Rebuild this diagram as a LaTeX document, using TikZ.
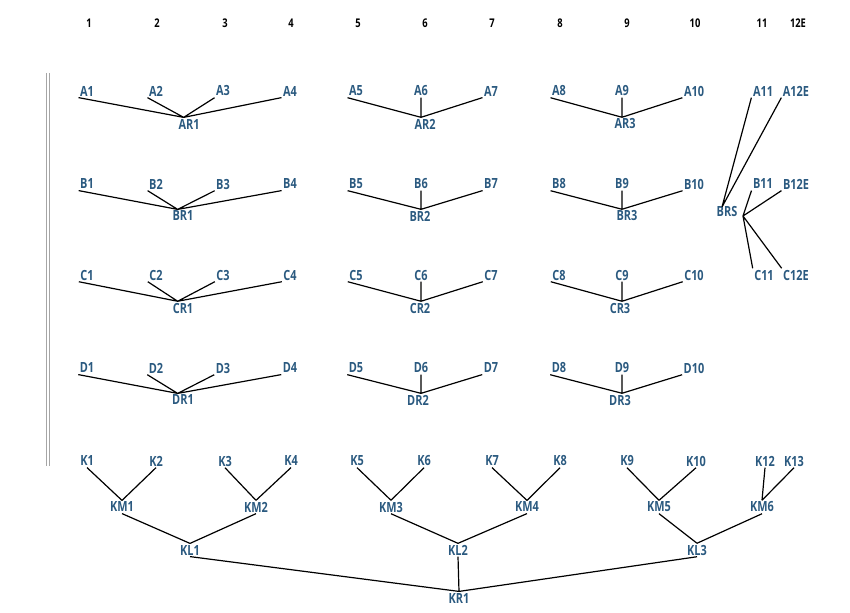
\documentclass[tikz,border=0pt]{standalone}
\usepackage{fontspec}
\setmainfont{Open Sans}[FakeStretch=0.78]
\begin{document}
\begin{tikzpicture}[x=0.75pt,y=-0.75pt,
  lb/.style={font=\bfseries\fontsize{10.5}{12}\selectfont, inner sep=1pt},
  hd/.style={font=\bfseries\fontsize{9}{10}\selectfont, inner sep=0pt},
  ln/.style={line width=0.9pt}]
\definecolor{lc}{HTML}{2B5A80}
\tikzset{lb/.append style={text=lc}}
\path[use as bounding box] (0,0) rectangle (850,613);
% headers
\foreach \t/\x in {1/89,2/157,3/225,4/291,5/358,6/425,7/492,8/560,9/627,10/695,11/762,12E/798}
  \node[hd] (h\t) at (\x,23) {\t};
% double vertical line
\draw[gray!70, line width=0.6pt] (46,73) -- (46,466) (49,73) -- (49,466);
% rows A-D
\foreach \r/\y in {A/91,B/184,C/275,D/368}{
  \foreach \i/\x in {1/87,2/156,3/223,4/290,5/356,6/421,7/491,8/559,9/622,10/694}
    \node[lb] (\r\i) at (\x,\y) {\r\i};
}
\foreach \r/\y/\xa/\xb/\xc in {A/124/189/425/625,B/216/183/420/627,C/308/183/420/620,D/400/183/418/620}{
  \node[lb] (\r R1) at (\xa,\y) {\r R1};
  \node[lb] (\r R2) at (\xb,\y) {\r R2};
  \node[lb] (\r R3) at (\xc,\y) {\r R3};
  \coordinate (\r j1) at ([xshift=-4pt]\r R1.north);
  \coordinate (\r j2) at (\r6.south |- \r R2.north);
  \coordinate (\r j3) at (\r9.south |- \r R3.north);
  \draw[ln] (\r1.south west) -- (\r j1) (\r2.south west) -- (\r j1)
            (\r3.south west) -- (\r j1) (\r4.south west) -- (\r j1);
  \draw[ln] (\r5.south west) -- (\r j2) (\r6.south) -- (\r j2) (\r7.south west) -- (\r j2);
  \draw[ln] (\r8.south west) -- (\r j3) (\r9.south) -- (\r j3) (\r10.south west) -- (\r j3);
}
% column 11/12E
\node[lb] (A11) at (763,91) {A11};
\node[lb] (A12E) at (796,91) {A12E};
\node[lb] (B11) at (763,184) {B11};
\node[lb] (B12E) at (796,184) {B12E};
\node[lb] (C11) at (764,275) {C11};
\node[lb] (C12E) at (796,275) {C12E};
\node[lb] (BRS) at (727,212) {BRS};
\coordinate (bj) at (722,207);
\coordinate (bk) at (743,216);
\draw[ln] (A11.south west) -- (bj) (A12E.south west) -- (bj);
\draw[ln] (B11.south west) -- (bk) (B12E.south west) -- (bk)
          (C11.north west) -- (bk) (C12E.north west) -- (bk);
% K tree
\foreach \i/\x in {1/87,2/156,3/225,4/291,5/357,6/424,7/492,8/560,9/627,10/696,12/765,13/794}
  \node[lb] (K\i) at (\x,461) {K\i};
\foreach \i/\x in {1/122,2/256,3/391,4/527,5/659,6/762}
  \node[lb] (KM\i) at (\x,507) {KM\i};
\foreach \i/\x in {1/190,2/458,3/697}
  \node[lb] (KL\i) at (\x,550) {KL\i};
\node[lb] (KR1) at (459,598) {KR1};
\draw[ln] (K1.south) -- (KM1.north) (K2.south) -- (KM1.north)
          (K3.south) -- (KM2.north) (K4.south) -- (KM2.north)
          (K5.south) -- (KM3.north) (K6.south) -- (KM3.north)
          (K7.south) -- (KM4.north) (K8.south) -- (KM4.north)
          (K9.south) -- (KM5.north) (K10.south) -- (KM5.north)
          (K12.south) -- (KM6.north) (K13.south) -- (KM6.north);
\draw[ln] (KM1.south) -- (KL1.north) (KM2.south) -- (KL1.north)
          (KM3.south) -- (KL2.north) (KM4.south) -- (KL2.north)
          (KM5.south) -- (KL3.north) (KM6.south) -- (KL3.north);
\draw[ln] (KL1.south) -- (KR1.north) (KL2.south) -- (KR1.north) (KL3.south) -- (KR1.north);
\end{tikzpicture}
\end{document}
